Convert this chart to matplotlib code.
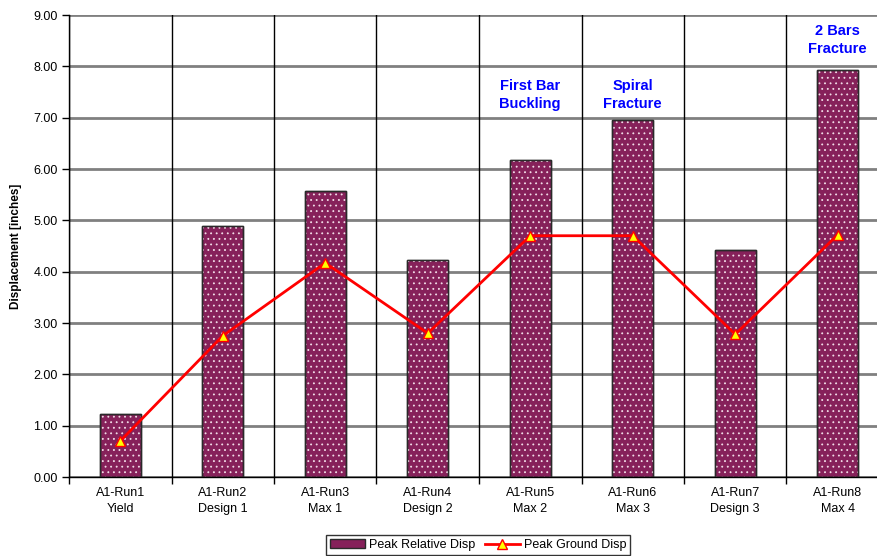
import matplotlib
matplotlib.use("Agg")
import matplotlib.pyplot as plt
from matplotlib.lines import Line2D
from matplotlib.patches import Patch
import numpy as np

plt.rcParams['font.family'] = ['Liberation Sans', 'DejaVu Sans']
plt.rcParams['hatch.linewidth'] = 0.6

runs = ["A1-Run1", "A1-Run2", "A1-Run3", "A1-Run4", "A1-Run5", "A1-Run6", "A1-Run7", "A1-Run8"]
levels = ["Yield", "Design 1", "Max 1", "Design 2", "Max 2", "Max 3", "Design 3", "Max 4"]
peak_relative = [1.22, 4.88, 5.58, 4.22, 6.17, 6.95, 4.42, 7.93]
peak_ground = [0.70, 2.75, 4.17, 2.80, 4.70, 4.70, 2.78, 4.72]
notes = {4: "First Bar\nBuckling", 5: "Spiral\nFracture", 7: "2 Bars\nFracture"}
yticks = [0, 1, 2, 3, 4, 5, 6, 7, 8, 9]

# vertical placement (data units) of each callout
note_y = {4: 7.44, 5: 7.44, 7: 8.52}

W, H = 878, 556
fig = plt.figure(figsize=(W / 100, H / 100), dpi=100)
ax = fig.add_axes([69 / W, 1 - 477 / H, 820 / W, 462 / H])

x = np.arange(len(runs))
bar_color = '#86215A'

ax.set_xlim(-0.5, len(runs) - 0.5)
ax.set_ylim(0, 9)

# horizontal grid
for v in yticks:
    ax.axhline(v, color='#808080', lw=2.0, zorder=1)
# category separators
for b in np.arange(-0.5, len(runs) + 0.5, 1):
    ax.axvline(b, color='black', lw=1.0, zorder=1)

ax.bar(x, peak_relative, width=0.4, color=bar_color, edgecolor='#2a2a2a',
       linewidth=1.0, zorder=2)
ax.bar(x, peak_relative, width=0.4, fill=False, hatch='...', edgecolor='#f2dde8',
       linewidth=0, zorder=3)
ax.bar(x, peak_relative, width=0.4, fill=False, edgecolor='#2a2a2a',
       linewidth=1.0, zorder=3)

ax.plot(x, peak_ground, color='#FF0000', lw=2.0, marker='^', markersize=7,
        markerfacecolor='#FFFF00', markeredgecolor='#FF0000', markeredgewidth=1.0,
        zorder=4)

for i, txt in notes.items():
    ax.text(x[i], note_y[i], txt, ha='center', va='center',
            color='#0000FF', fontsize=10.5, fontweight='bold', linespacing=1.35,
            zorder=5)

ax.set_yticks(yticks)
ax.set_yticklabels([f"{v:.2f}" for v in yticks], fontsize=9)
ax.set_xticks(x)
ax.set_xticklabels([f"{r}\n{l}" for r, l in zip(runs, levels)], fontsize=9,
                   linespacing=1.5)
ax.tick_params(axis='x', which='major', length=0, pad=7)
ax.set_xticks(np.arange(-0.5, len(runs) + 0.5, 1), minor=True)
ax.tick_params(axis='x', which='minor', length=5, width=1, color='black')
ax.tick_params(axis='y', length=5, width=1, color='black', pad=3)

for s in ['left', 'bottom']:
    ax.spines[s].set_color('black')
    ax.spines[s].set_linewidth(1.0)
ax.spines['top'].set_visible(False)
ax.spines['right'].set_visible(False)

ax.set_ylabel("Displacement [inches]", fontsize=8.5, fontweight='bold', labelpad=8)

handles = [
    Patch(facecolor=bar_color, edgecolor='#2a2a2a'),
    Line2D([0], [0], color='#FF0000', lw=2.0, marker='^', markersize=7,
           markerfacecolor='#FFFF00', markeredgecolor='#FF0000'),
]
leg = fig.legend(handles, ["Peak Relative Disp", "Peak Ground Disp"],
                 loc='lower center', bbox_to_anchor=(478 / W, 0.0), ncol=2,
                 fontsize=9, frameon=True, fancybox=False, edgecolor='black',
                 borderpad=0.3, handlelength=2.8, handletextpad=0.3,
                 columnspacing=0.8, borderaxespad=0.1)
leg.get_frame().set_linewidth(1.0)

fig.savefig("out.png", dpi=100)
